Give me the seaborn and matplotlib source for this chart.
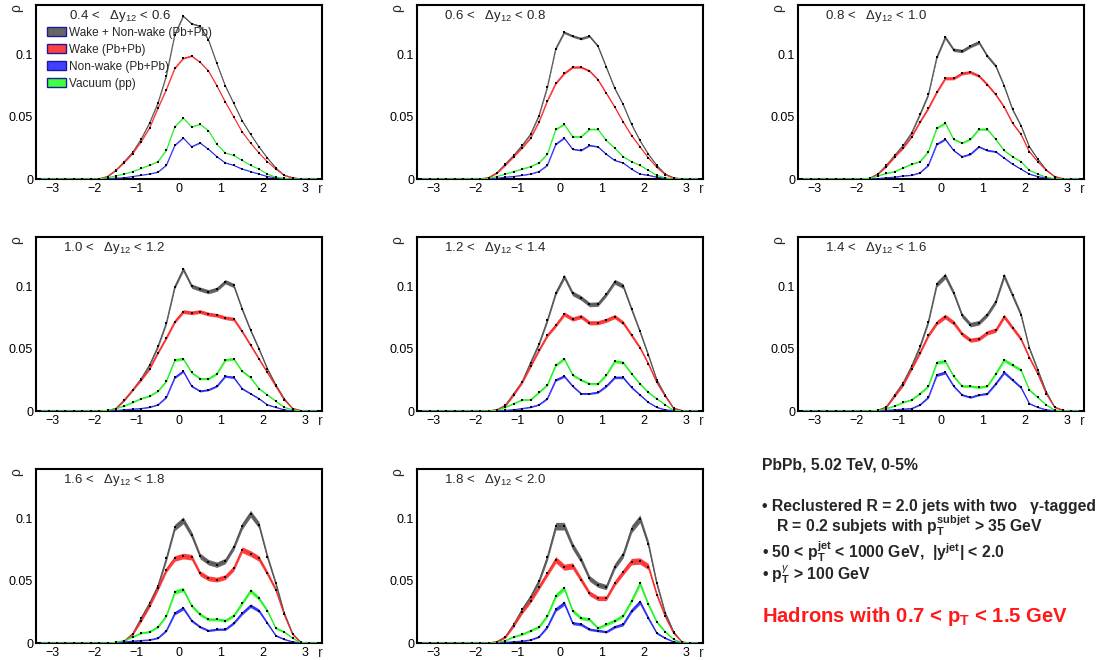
import numpy as np
import pandas as pd
import matplotlib
matplotlib.use("Agg")
import matplotlib.pyplot as plt
import seaborn as sns
from matplotlib.patches import Patch
from matplotlib.ticker import MultipleLocator, FixedLocator, FixedFormatter

# ---------------- data ----------------
R_BINS = [-3.3, -3.1, -2.9, -2.7, -2.5, -2.3, -2.1, -1.9, -1.7, -1.5, -1.3, -1.1,
          -0.9, -0.7, -0.5, -0.3, -0.1, 0.1, 0.3, 0.5, 0.7, 0.9, 1.1, 1.3, 1.5,
          1.7, 1.9, 2.1, 2.3, 2.5, 2.7, 2.9, 3.1, 3.3]
# values listed for r = -1.9 ... 2.9 ; all other bins are zero
LEAD_ZEROS = [0, 0, 0, 0, 0, 0, 0]
TAIL_ZEROS = [0, 0]

PANEL_LABELS = ["0.4 <   Δy$_{12}$ < 0.6", "0.6 <   Δy$_{12}$ < 0.8", "0.8 <   Δy$_{12}$ < 1.0",
                "1.0 <   Δy$_{12}$ < 1.2", "1.2 <   Δy$_{12}$ < 1.4", "1.4 <   Δy$_{12}$ < 1.6",
                "1.6 <   Δy$_{12}$ < 1.8", "1.8 <   Δy$_{12}$ < 2.0"]

SERIES_NAMES = ["Wake + Non-wake (Pb+Pb)", "Wake (Pb+Pb)", "Non-wake (Pb+Pb)", "Vacuum (pp)"]

# Wake + Non-wake (Pb+Pb)
TOTAL = [
    [0, 0.002, 0.007, 0.014, 0.0215, 0.032, 0.045, 0.061, 0.083, 0.116, 0.131, 0.125, 0.123, 0.112, 0.093, 0.075, 0.061, 0.047, 0.036, 0.026, 0.017, 0.009, 0.003, 0.001, 0],
    [0, 0.001, 0.005, 0.012, 0.019, 0.027, 0.036, 0.051, 0.074, 0.105, 0.118, 0.115, 0.113, 0.115, 0.107, 0.090, 0.073, 0.060, 0.044, 0.031, 0.020, 0.011, 0.004, 0.001, 0],
    [0, 0.0005, 0.004, 0.011, 0.019, 0.027, 0.037, 0.052, 0.068, 0.098, 0.114, 0.104, 0.103, 0.107, 0.110, 0.099, 0.091, 0.075, 0.056, 0.043, 0.026, 0.016, 0.0075, 0.002, 0],
    [0, 0.0003, 0.002, 0.0086, 0.017, 0.026, 0.037, 0.052, 0.071, 0.100, 0.114, 0.1005, 0.098, 0.096, 0.098, 0.104, 0.101, 0.082, 0.065, 0.050, 0.034, 0.021, 0.010, 0.002, 0.0003],
    [0, 0, 0.001, 0.0046, 0.014, 0.0235, 0.039, 0.054, 0.073, 0.095, 0.108, 0.0946, 0.091, 0.0857, 0.086, 0.094, 0.104, 0.1005, 0.082, 0.064, 0.045, 0.025, 0.0127, 0.0024, 0.0003],
    [0, 0, 0.0005, 0.0032, 0.013, 0.0227, 0.036, 0.052, 0.072, 0.102, 0.1086, 0.095, 0.077, 0.0695, 0.071, 0.0776, 0.088, 0.1086, 0.093, 0.0776, 0.0505, 0.033, 0.0154, 0.0032, 0.0005],
    [0, 0, 0.0003, 0.0016, 0.0075, 0.020, 0.032, 0.046, 0.068, 0.093, 0.0987, 0.087, 0.070, 0.065, 0.063, 0.066, 0.077, 0.094, 0.104, 0.095, 0.0695, 0.048, 0.024, 0.0075, 0.0005],
    [0, 0, 0.001, 0.005, 0.015, 0.027, 0.037, 0.050, 0.069, 0.094, 0.094, 0.078, 0.067, 0.052, 0.047, 0.045, 0.0615, 0.071, 0.0916, 0.100, 0.0795, 0.048, 0.024, 0.0089, 0.0008],
]
# Wake (Pb+Pb)
WAKE = [
    [0, 0.0018, 0.0068, 0.0132, 0.0205, 0.030, 0.041, 0.057, 0.072, 0.089, 0.097, 0.099, 0.094, 0.087, 0.075, 0.062, 0.050, 0.038, 0.029, 0.021, 0.014, 0.008, 0.003, 0.0008, 0],
    [0, 0.001, 0.0045, 0.011, 0.018, 0.025, 0.033, 0.046, 0.063, 0.077, 0.085, 0.090, 0.090, 0.087, 0.080, 0.069, 0.058, 0.046, 0.035, 0.026, 0.017, 0.0095, 0.0035, 0.0008, 0],
    [0, 0.0005, 0.004, 0.010, 0.018, 0.025, 0.034, 0.046, 0.057, 0.070, 0.081, 0.081, 0.085, 0.086, 0.083, 0.076, 0.068, 0.058, 0.045, 0.036, 0.022, 0.014, 0.007, 0.002, 0.0003],
    [0, 0.0003, 0.002, 0.009, 0.017, 0.025, 0.034, 0.047, 0.059, 0.072, 0.080, 0.079, 0.080, 0.078, 0.077, 0.075, 0.074, 0.064, 0.053, 0.042, 0.031, 0.020, 0.009, 0.002, 0.0003],
    [0, 0, 0.001, 0.004, 0.013, 0.023, 0.036, 0.049, 0.061, 0.069, 0.078, 0.074, 0.076, 0.071, 0.071, 0.073, 0.076, 0.071, 0.061, 0.051, 0.038, 0.023, 0.012, 0.002, 0.0003],
    [0, 0, 0.0005, 0.003, 0.012, 0.021, 0.034, 0.047, 0.061, 0.071, 0.076, 0.071, 0.062, 0.057, 0.058, 0.063, 0.065, 0.076, 0.067, 0.058, 0.043, 0.030, 0.014, 0.003, 0.0005],
    [0, 0, 0.0003, 0.0015, 0.007, 0.018, 0.030, 0.044, 0.059, 0.068, 0.070, 0.069, 0.056, 0.052, 0.051, 0.053, 0.060, 0.075, 0.072, 0.068, 0.056, 0.043, 0.023, 0.007, 0.0005],
    [0, 0, 0.001, 0.0045, 0.014, 0.025, 0.034, 0.045, 0.056, 0.067, 0.061, 0.062, 0.051, 0.040, 0.036, 0.036, 0.048, 0.057, 0.0655, 0.066, 0.0615, 0.039, 0.0216, 0.008, 0.0008],
]
# Non-wake (Pb+Pb)
NONWAKE = [
    [0, 0.0003, 0.0006, 0.001, 0.002, 0.003, 0.004, 0.0055, 0.011, 0.027, 0.033, 0.026, 0.029, 0.024, 0.018, 0.013, 0.011, 0.008, 0.006, 0.004, 0.002, 0.001, 0.0003, 0, 0],
    [0, 0.0002, 0.0005, 0.0015, 0.002, 0.003, 0.004, 0.006, 0.011, 0.028, 0.033, 0.024, 0.023, 0.027, 0.026, 0.020, 0.015, 0.013, 0.008, 0.004, 0.003, 0.0015, 0.0005, 0, 0],
    [0, 0.0001, 0.0003, 0.001, 0.0015, 0.0025, 0.003, 0.005, 0.011, 0.028, 0.032, 0.023, 0.018, 0.020, 0.026, 0.023, 0.022, 0.017, 0.012, 0.008, 0.004, 0.002, 0.0007, 0, 0],
    [0, 0.0001, 0.0003, 0.001, 0.0015, 0.002, 0.003, 0.005, 0.011, 0.027, 0.032, 0.020, 0.016, 0.017, 0.020, 0.028, 0.027, 0.018, 0.014, 0.010, 0.005, 0.003, 0.001, 0, 0],
    [0, 0, 0.0002, 0.0005, 0.001, 0.002, 0.003, 0.005, 0.010, 0.025, 0.028, 0.020, 0.014, 0.014, 0.015, 0.020, 0.027, 0.027, 0.019, 0.013, 0.007, 0.003, 0.001, 0.0003, 0],
    [0, 0, 0.0001, 0.0005, 0.001, 0.0015, 0.002, 0.005, 0.011, 0.029, 0.031, 0.020, 0.013, 0.011, 0.013, 0.014, 0.022, 0.031, 0.025, 0.019, 0.006, 0.003, 0.001, 0.0003, 0],
    [0, 0, 0.0002, 0.0008, 0.0015, 0.002, 0.0025, 0.004, 0.010, 0.024, 0.028, 0.018, 0.013, 0.010, 0.011, 0.011, 0.016, 0.024, 0.030, 0.026, 0.016, 0.006, 0.003, 0.001, 0.0002],
    [0, 0, 0.0001, 0.0005, 0.001, 0.0015, 0.0025, 0.005, 0.013, 0.027, 0.032, 0.016, 0.015, 0.011, 0.010, 0.009, 0.013, 0.015, 0.026, 0.033, 0.020, 0.008, 0.004, 0.001, 0.0002],
]
# Vacuum (pp)
VACUUM = [
    [0, 0.001, 0.0025, 0.004, 0.006, 0.0085, 0.011, 0.014, 0.023, 0.042, 0.049, 0.042, 0.044, 0.039, 0.028, 0.021, 0.019, 0.015, 0.011, 0.008, 0.004, 0.0015, 0.0005, 0, 0],
    [0, 0.0005, 0.002, 0.004, 0.006, 0.008, 0.010, 0.013, 0.020, 0.040, 0.044, 0.034, 0.034, 0.040, 0.040, 0.031, 0.025, 0.018, 0.014, 0.011, 0.007, 0.003, 0.001, 0, 0],
    [0, 0.0005, 0.0025, 0.0045, 0.006, 0.009, 0.012, 0.014, 0.022, 0.041, 0.045, 0.032, 0.029, 0.032, 0.040, 0.040, 0.032, 0.023, 0.018, 0.014, 0.007, 0.004, 0.0015, 0.0003, 0],
    [0, 0.0005, 0.002, 0.004, 0.007, 0.010, 0.012, 0.016, 0.024, 0.041, 0.042, 0.031, 0.026, 0.026, 0.030, 0.041, 0.042, 0.032, 0.027, 0.018, 0.013, 0.008, 0.003, 0.001, 0],
    [0, 0, 0.0005, 0.003, 0.006, 0.009, 0.009, 0.015, 0.021, 0.037, 0.042, 0.029, 0.025, 0.022, 0.022, 0.029, 0.040, 0.039, 0.030, 0.022, 0.015, 0.010, 0.005, 0.0005, 0],
    [0, 0, 0.0003, 0.002, 0.004, 0.007, 0.009, 0.014, 0.020, 0.039, 0.040, 0.028, 0.020, 0.020, 0.019, 0.020, 0.030, 0.041, 0.037, 0.033, 0.017, 0.011, 0.005, 0.0008, 0],
    [0, 0, 0.0005, 0.002, 0.005, 0.008, 0.009, 0.013, 0.022, 0.041, 0.043, 0.030, 0.023, 0.019, 0.019, 0.018, 0.022, 0.032, 0.042, 0.036, 0.026, 0.012, 0.009, 0.004, 0.0003],
    [0, 0, 0.0003, 0.002, 0.005, 0.007, 0.010, 0.013, 0.022, 0.038, 0.044, 0.026, 0.020, 0.019, 0.012, 0.015, 0.018, 0.022, 0.034, 0.048, 0.031, 0.017, 0.009, 0.003, 0.0003],
]
# uncertainty scale per panel (band half-width = scale * sqrt(value))
ERR_SCALE = [0.0016, 0.0030, 0.0043, 0.0054, 0.0062, 0.0070, 0.0086, 0.0100]

# ---------------- style ----------------
sns.set_style("white")
plt.rcParams['font.family'] = ['Liberation Sans', 'DejaVu Sans']
plt.rcParams['mathtext.fontset'] = 'custom'
plt.rcParams['mathtext.rm'] = 'Liberation Sans'
plt.rcParams['mathtext.it'] = 'Liberation Sans:italic'
plt.rcParams['mathtext.bf'] = 'Liberation Sans:bold'

FILL = {"Wake + Non-wake (Pb+Pb)": "#666666", "Wake (Pb+Pb)": "#ff4040",
        "Non-wake (Pb+Pb)": "#4040ff", "Vacuum (pp)": "#40ff40"}
LINE = {"Wake + Non-wake (Pb+Pb)": "#555555", "Wake (Pb+Pb)": "#ff2a2a",
        "Non-wake (Pb+Pb)": "#2a2aff", "Vacuum (pp)": "#22ee22"}

# build long-form table
rows = []
for p in range(8):
    for name, src in zip(SERIES_NAMES, [TOTAL, WAKE, NONWAKE, VACUUM]):
        vals = LEAD_ZEROS + src[p] + TAIL_ZEROS
        for r, v in zip(R_BINS, vals):
            rows.append({"panel": p, "series": name, "r": r, "rho": v})
df = pd.DataFrame(rows)

W, H = 1105, 660
fig = plt.figure(figsize=(W / 100, H / 100), dpi=100)
COL_LEFT = [36, 417, 798]
ROW_TOP = [5, 237, 469]
AW, AH = 286, 174

for p in range(8):
    row, col = divmod(p, 3)
    ax = fig.add_axes([COL_LEFT[col] / W, 1 - (ROW_TOP[row] + AH) / H, AW / W, AH / H])
    sub = df[df.panel == p]
    for name in SERIES_NAMES:
        s = sub[sub.series == name]
        v = s.rho.to_numpy()
        err = ERR_SCALE[p] * np.sqrt(v)
        ax.fill_between(s.r, v - err, v + err, color=FILL[name], lw=0, zorder=2)
        sns.lineplot(data=s, x="r", y="rho", ax=ax, color=LINE[name], lw=0.8,
                     marker="s", markersize=1.8, markerfacecolor="black",
                     markeredgecolor="black", markeredgewidth=0, zorder=3,
                     estimator=None, sort=False, legend=False)
    ax.set_xlim(-3.4, 3.4)
    ax.set_ylim(0, 0.14)
    ax.set_xlabel("")
    ax.set_ylabel("")
    ax.xaxis.set_major_locator(MultipleLocator(1))
    ax.xaxis.set_minor_locator(MultipleLocator(0.2))
    ax.yaxis.set_major_locator(FixedLocator([0, 0.05, 0.1]))
    ax.yaxis.set_major_formatter(FixedFormatter(["0", "0.05", "0.1"]))
    ax.yaxis.set_minor_locator(MultipleLocator(0.01))
    ax.tick_params(axis='both', which='both', direction='in', top=False, right=False,
                   labelsize=9, colors='black')
    ax.tick_params(axis='y', which='major', length=6, width=1, pad=2)
    ax.tick_params(axis='y', which='minor', length=3, width=0.8)
    ax.tick_params(axis='x', which='major', length=5, width=1, pad=3)
    ax.tick_params(axis='x', which='minor', length=2.5, width=0.8)
    for sp in ax.spines.values():
        sp.set_color('black')
        sp.set_linewidth(1.5)
    tx = 0.115 if p == 0 else 0.095
    ax.text(tx, 0.935, PANEL_LABELS[p], transform=ax.transAxes, fontsize=9.5,
            va='center', ha='left')
    ax.text(-0.07, 0.983, "ρ", transform=ax.transAxes, rotation=90, fontsize=10,
            va='center', ha='center')
    ax.text(0.993, -0.057, "r", transform=ax.transAxes, fontsize=10,
            va='center', ha='center')
    if p == 0:
        handles = [Patch(facecolor=FILL[n], edgecolor="#1a1a9a", linewidth=1.0)
                   for n in SERIES_NAMES]
        ax.legend(handles, SERIES_NAMES, loc='upper left', bbox_to_anchor=(0.038, 0.875),
                  frameon=False, fontsize=8.5, handlelength=1.6, handleheight=0.85,
                  handletextpad=0.3, labelspacing=0.42, borderpad=0, borderaxespad=0)

# ---------------- text block ----------------
def ftxt(x, y, s, **kw):
    fig.text(x / W, 1 - y / H, s, va='baseline', ha='left', **kw)

FS = 11.3
ftxt(762, 470, "PbPb, 5.02 TeV, 0-5%", fontsize=FS, fontweight='bold')
ftxt(762, 511, "• Reclustered R = 2.0 jets with two   γ-tagged", fontsize=FS, fontweight='bold')
ftxt(776, 532, r"R = 0.2 subjets with $\mathbf{p}_{\mathbf{T}}^{\mathbf{subjet}}$ > 35 GeV",
     fontsize=FS, fontweight='bold')
ftxt(762, 558, r"• 50 < $\mathbf{p}_{\mathbf{T}}^{\mathbf{jet}}$ < 1000 GeV,  |$\mathbf{y}^{\mathbf{jet}}$| < 2.0",
     fontsize=FS, fontweight='bold')
ftxt(762, 580, r"• $\mathbf{p}_{\mathbf{T}}^{\gamma}$ > 100 GeV", fontsize=FS, fontweight='bold')
ftxt(762, 622, r"Hadrons with 0.7 < $\mathbf{p}_{\mathbf{T}}$ < 1.5 GeV", fontsize=14.6,
     fontweight='bold', color='#ff1a1a')

fig.savefig("out.png", dpi=100)
